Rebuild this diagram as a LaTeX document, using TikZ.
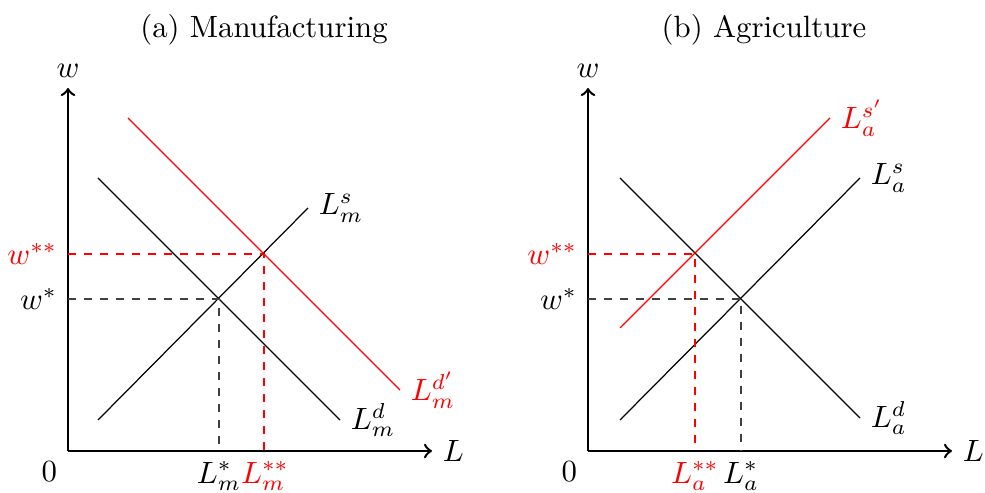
\documentclass[tikz,border=0pt]{standalone}
\begin{document}
\begin{tikzpicture}[x=0.3247pt,y=-0.3247pt,
  axis/.style={thick,->},
  curve/.style={black},
  redcurve/.style={red},
  guide/.style={dash pattern=on 2.6pt off 2.6pt,black!75},
  redguide/.style={dash pattern=on 2.6pt off 2.6pt,red},
  lbl/.style={inner sep=3.33pt}]
\useasboundingbox (0,0) rectangle (985,493);
% ---------- panel (a) ----------
\node (ta) at (264,30) {(a) Manufacturing};
\coordinate (Oa) at (68,451);
\coordinate (Ya) at (68,88);
\coordinate (Xa) at (432,451);
\draw[axis] (Oa) -- (Ya);
\draw[axis] (Oa) -- (Xa);
\node[lbl,anchor=south] (wa) at (Ya) {$w$};
\node[lbl,anchor=west] (La) at (Xa) {$L$};
\node[lbl,anchor=north east] (za) at (Oa) {$0$};
% curves
\coordinate (sa1) at (98,420);
\coordinate (sa2) at (308,208);
\coordinate (da1) at (98,178);
\coordinate (da2) at (340,420);
\coordinate (ra1) at (128,118);
\coordinate (ra2) at (400,390);
\draw[curve] (sa1) -- (sa2);
\draw[curve] (da1) -- (da2);
\draw[redcurve] (ra1) -- (ra2);
\node[lbl,anchor=west] (lsa) at (sa2) {$L^s_m$};
\node[lbl,anchor=west] (lda) at (da2) {$L^d_m$};
\node[lbl,anchor=west,red] (lra) at (ra2) {$L^{d'}_m$};
% equilibria
\coordinate (ea) at (219,299);
\coordinate (eaa) at (264,254);
\coordinate (wya) at (68,299);
\coordinate (wyya) at (68,254);
\coordinate (lxa) at (219,451);
\coordinate (lxxa) at (265,451);
\draw[guide] (wya) -- (ea) -- (lxa);
\draw[redguide] (wyya) -- (eaa) -- (264,451);
\node[lbl,anchor=east] (wsa) at (wya) {$w^*$};
\node[lbl,anchor=east,red] (wssa) at (wyya) {$w^{**}$};
\node[lbl,anchor=north] (lsxa) at (lxa) {$L^*_m$};
\node[lbl,anchor=north,red] (lssxa) at (lxxa) {$L^{**}_m$};
% ---------- panel (b) ----------
\node (tb) at (764,30) {(b) Agriculture};
\coordinate (Ob) at (588,451);
\coordinate (Yb) at (588,88);
\coordinate (Xb) at (952,451);
\draw[axis] (Ob) -- (Yb);
\draw[axis] (Ob) -- (Xb);
\node[lbl,anchor=south] (wb) at (Yb) {$w$};
\node[lbl,anchor=west] (Lb) at (Xb) {$L$};
\node[lbl,anchor=north east] (zb) at (Ob) {$0$};
\coordinate (db1) at (620,178);
\coordinate (db2) at (860,418);
\coordinate (sb1) at (620,420);
\coordinate (sb2) at (860,178);
\coordinate (rb1) at (620,328);
\coordinate (rb2) at (830,118);
\draw[curve] (db1) -- (db2);
\draw[curve] (sb1) -- (sb2);
\draw[redcurve] (rb1) -- (rb2);
\node[lbl,anchor=west] (lsb) at (sb2) {$L^s_a$};
\node[lbl,anchor=west] (ldb) at (db2) {$L^d_a$};
\node[lbl,anchor=west,red] (lrb) at (rb2) {$L^{s'}_a$};
\coordinate (eb) at (741,299);
\coordinate (ebb) at (695,254);
\coordinate (wyb) at (588,299);
\coordinate (wyyb) at (588,254);
\coordinate (lxb) at (741,451);
\coordinate (lxxb) at (695,451);
\draw[guide] (wyb) -- (eb) -- (lxb);
\draw[redguide] (wyyb) -- (ebb) -- (lxxb);
\node[lbl,anchor=east] (wsb) at (wyb) {$w^*$};
\node[lbl,anchor=east,red] (wssb) at (wyyb) {$w^{**}$};
\node[lbl,anchor=north] (lsxb) at (lxb) {$L^*_a$};
\node[lbl,anchor=north,red] (lssxb) at (lxxb) {$L^{**}_a$};
\end{tikzpicture}
\end{document}
